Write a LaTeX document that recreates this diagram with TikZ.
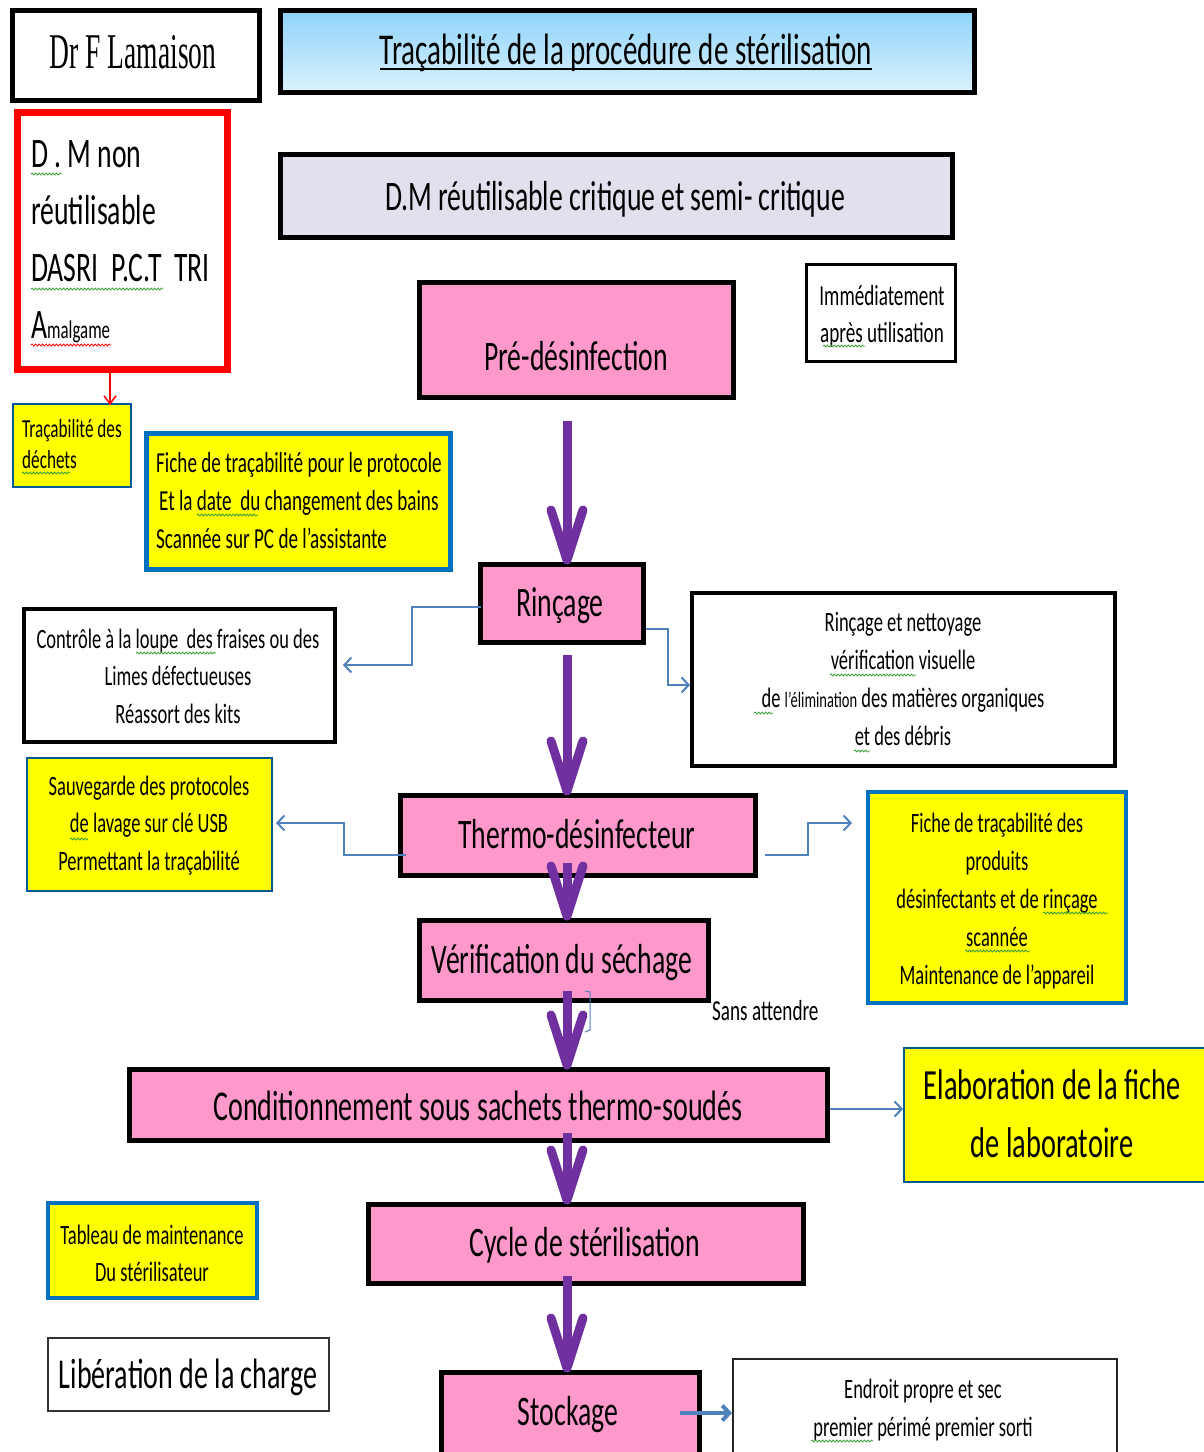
\documentclass[tikz,border=0pt]{standalone}
\usepackage{fontspec}
\setmainfont{Carlito}[FakeStretch=0.66]
\newfontfamily\drfont{Liberation Serif}[FakeStretch=0.55]
\usetikzlibrary{arrows.meta,calc,decorations.pathmorphing}
\definecolor{pinkb}{HTML}{FF99CC}
\definecolor{lav}{HTML}{E4DFEC}
\definecolor{yel}{HTML}{FFFF00}
\definecolor{purp}{HTML}{7030A0}
\definecolor{conb}{HTML}{4F81BD}
\definecolor{bbord}{HTML}{0070C0}
\definecolor{ttop}{HTML}{8ED3FA}
\definecolor{tbot}{HTML}{DCF2FE}
\definecolor{sqg}{HTML}{3CA03C}
\newcommand\fsz[2]{\fontsize{#1}{#2}\selectfont}
\begin{document}
\begin{tikzpicture}[x=1pt,y=-1pt,
  bx/.style={anchor=north west, inner sep=0pt, outer sep=0pt},
  blk/.style={bx, draw=black, line width=5pt},
  pk/.style={blk, fill=pinkb},
  wbox/.style={bx, draw=black, line width=3.5pt, fill=white},
  ybox/.style={bx, draw=bbord, line width=3.5pt, fill=yel},
  ythin/.style={bx, draw=bbord!80!black, line width=2pt, fill=yel},
  tx/.style={inner sep=0pt, anchor=base, align=center},
  txl/.style={inner sep=0pt, anchor=base west, align=left},
  parr/.style={draw=purp, line width=9pt, -{Straight Barb[length=50pt, width=32pt, round]}},
  bcon/.style={draw=conb, line width=2pt, -{Straight Barb[length=7pt, width=15pt]}},
  squig/.style={line width=0.8pt, decorate, decoration={snake, amplitude=1pt, segment length=3.5pt}},
]
\path[fill=white] (0,0) rectangle (1204,1452);
\useasboundingbox (0,0) rectangle (1204,1452);
\coordinate (ax) at (567,0);

% ---------- boxes ----------
\node[blk, fill=white, minimum width=247pt, minimum height=90pt] (drf) at (12.5,10.5) {};
\node[blk, top color=ttop, bottom color=tbot, minimum width=694pt, minimum height=82pt] (title) at (280.5,10.5) {};
\node[bx, draw=red, line width=7pt, fill=white, minimum width=210pt, minimum height=257pt] (red) at (17.5,112.5) {};
\node[ythin, minimum width=118pt, minimum height=83pt] (dech) at (13,404) {};
\node[bx, draw=bbord, line width=5pt, fill=yel, minimum width=304pt, minimum height=136pt] (fprot) at (146.5,433.5) {};
\node[blk, fill=lav, minimum width=672pt, minimum height=83pt] (dm) at (280.5,154.5) {};
\node[pk, minimum width=314pt, minimum height=115pt] (pre) at (419.5,282.5) {};
\node[wbox, line width=3pt, minimum width=149pt, minimum height=97pt] (imm) at (806.5,264.5) {};
\node[pk, minimum width=163pt, minimum height=78pt] (rin) at (480.5,564.5) {};
\node[wbox, minimum width=311pt, minimum height=133pt] (ctl) at (24,609) {};
\node[wbox, minimum width=423pt, minimum height=173pt] (rne) at (692,593) {};
\node[pk, minimum width=355pt, minimum height=80pt] (thermo) at (400.5,795.5) {};
\node[ythin, minimum width=245pt, minimum height=133pt] (sauv) at (27,758) {};
\node[ybox, minimum width=258pt, minimum height=211pt] (fprod) at (868,792) {};
\node[pk, minimum width=289pt, minimum height=80pt] (verif) at (419.5,920.5) {};
\node[pk, minimum width=698pt, minimum height=71pt] (cond) at (129.5,1069.5) {};
\node[ythin, minimum width=310pt, minimum height=134pt] (elab) at (904,1048) {};
\node[pk, minimum width=435pt, minimum height=79pt] (cycle) at (368.5,1204.5) {};
\node[ybox, minimum width=209pt, minimum height=95pt] (tab) at (48,1203) {};
\node[bx, draw=black!80, line width=2pt, fill=white, minimum width=281pt, minimum height=73pt] (lib) at (48,1338) {};
\node[pk, minimum width=258pt, minimum height=110pt] (stock) at (441.5,1372.5) {};
\node[bx, draw=black!85, line width=2pt, fill=white, minimum width=384pt, minimum height=120pt] (endr) at (733,1359) {};

% ---------- texts (anchor = baseline of the last line) ----------
\node[tx, font=\drfont\fsz{50}{60}] at (133,68) {Dr F Lamaison};
\node[tx, font=\fsz{44}{52}] (ttl) at (626,64) {Traçabilité de la procédure de stérilisation};
\draw[line width=2pt] ($(ttl.base west)+(0,5)$) -- ($(ttl.base east)+(0,5)$);
\node[tx, font=\fsz{42}{50}] at (615,210) {D.M réutilisable critique et semi- critique};
\node[tx, font=\fsz{42}{50}] at (576,370) {Pré-désinfection};
\node[tx, font=\fsz{29}{37}] at (882,342) {Immédiatement\\ après utilisation};
\node[txl, font=\fsz{42}{57}] at (31,338) {D . M non\\réutilisable\\DASRI\ \ P.C.T\ \ TRI\\A{\fsz{25.5}{57}malgame}};
\node[txl, font=\fsz{26}{31}] at (22,468) {Traçabilité des\\déchets};
\node[txl, font=\fsz{29}{38}] at (156,548) {Fiche de traçabilité pour le protocole\\\hspace{3pt}Et la date\ \ du changement des bains\\Scannée sur PC de l’assistante};
\node[tx, font=\fsz{42}{50}] at (560,616) {Rinçage};
\node[tx, font=\fsz{28}{37.5}] at (178,723) {Contrôle à la loupe\ \ des fraises ou des\\Limes défectueuses\\Réassort des kits};
\node[tx, font=\fsz{28}{37.7}] at (903,745) {Rinçage et nettoyage\\vérification visuelle\\de {\fsz{22}{37.7}l’élimination} des matières organiques\\et des débris};
\node[tx, font=\fsz{42}{50}] at (577,848) {Thermo-désinfecteur};
\node[tx, font=\fsz{28}{37.5}] at (149,870) {Sauvegarde des protocoles\\de lavage sur clé USB\\Permettant la traçabilité};
\node[tx, font=\fsz{28}{38}] at (997,984) {Fiche de traçabilité des\\produits\\désinfectants et de rinçage\\scannée\\Maintenance de l’appareil};
\node[tx, font=\fsz{42}{50}] at (562,973) {Vérification du séchage};
\node[txl, font=\fsz{29}{30}] at (712,1020) {Sans attendre};
\node[tx, font=\fsz{42.5}{48}] at (478,1120) {Conditionnement sous sachets thermo-soudés};
\node[tx, font=\fsz{43}{58}] at (1052,1157) {Elaboration de la fiche\\de laboratoire};
\node[tx, font=\fsz{42}{50}] at (585,1256) {Cycle de stérilisation};
\node[tx, font=\fsz{28}{37}] at (152,1281) {Tableau de maintenance\\Du stérilisateur};
\node[tx, font=\fsz{42.5}{48}] at (188,1388) {Libération de la charge};
\node[tx, font=\fsz{42}{50}] at (568,1425) {Stockage};
\node[tx, font=\fsz{28}{38}] at (923,1436) {Endroit propre et sec\\premier périmé premier sorti};

% ---------- spell-check squiggles ----------
\draw[squig, sqg] (31,174) -- (62,174);
\draw[squig, sqg] (31,289) -- (163,289);
\draw[squig, red] (31,345) -- (111,345);
\draw[squig, sqg] (823,346) -- (865,346);
\draw[squig, sqg] (22,473) -- (70,473);
\draw[squig, sqg] (197,515) -- (258,515);
\draw[squig, sqg] (136,653) -- (216,653);
\draw[squig, sqg] (830,675) -- (916,675);
\draw[squig, sqg] (754,713) -- (773,713);
\draw[squig, sqg] (854,751) -- (870,751);
\draw[squig, sqg] (70,839) -- (88,839);
\draw[squig, sqg] (1043,913) -- (1108,913);
\draw[squig, sqg] (965,951) -- (1030,951);
\draw[squig, sqg] (811,1441) -- (873,1441);

% ---------- purple flow arrows ----------
\draw[parr] ($(pre.south -| ax)+(0,23)$) -- (rin.north -| ax);
\draw[parr] ($(rin.south -| ax)+(0,12)$) -- (thermo.north -| ax);
\draw[parr] ($(thermo.south -| ax)+(0,-13)$) -- (verif.north -| ax);
\draw[parr] ($(verif.south -| ax)+(0,-10)$) -- (cond.north -| ax);
\draw[parr] ($(cond.south -| ax)+(0,-8)$) -- (cycle.north -| ax);
\draw[parr] ($(cycle.south -| ax)+(0,-8)$) -- (stock.north -| ax);

% ---------- side connectors ----------
\draw[draw=red, line width=1.5pt, -{Straight Barb[length=8pt, width=12pt]}] ($(red.south)+(-12.5,3.5)$) -- ($(dech.north)+(38,1)$);
\draw[bcon] ($(rin.west)+(0,3.5)$) -- ++(-69,0) |- ($(ctl.east)+(8,-10.5)$);
\draw[bcon] ($(rin.east)+(2.5,25.5)$) -- ++(22,0) |- ($(rne.west)+(-2,5.5)$);
\draw[bcon] ($(thermo.west)+(5,19.5)$) -- ++(-62,0) |- ($(sauv.east)+(4,-1.5)$);
\draw[bcon] ($(thermo.east)+(9.5,19.5)$) -- ++(43,0) |- ($(fprod.west)+(-16,-74.5)$);
\draw[bcon] ($(cond.east)+(2,4)$) -- ($(elab.west)+(-1,-6)$);
\draw[bcon, line width=4pt] ($(stock.east)+(-19.5,-14.5)$) -- ($(endr.west)+(-1,-6)$);
\draw[conb, line width=1pt] (585,991) -- (590,992) -- (590,1030) -- (585,1032);
\end{tikzpicture}
\end{document}
